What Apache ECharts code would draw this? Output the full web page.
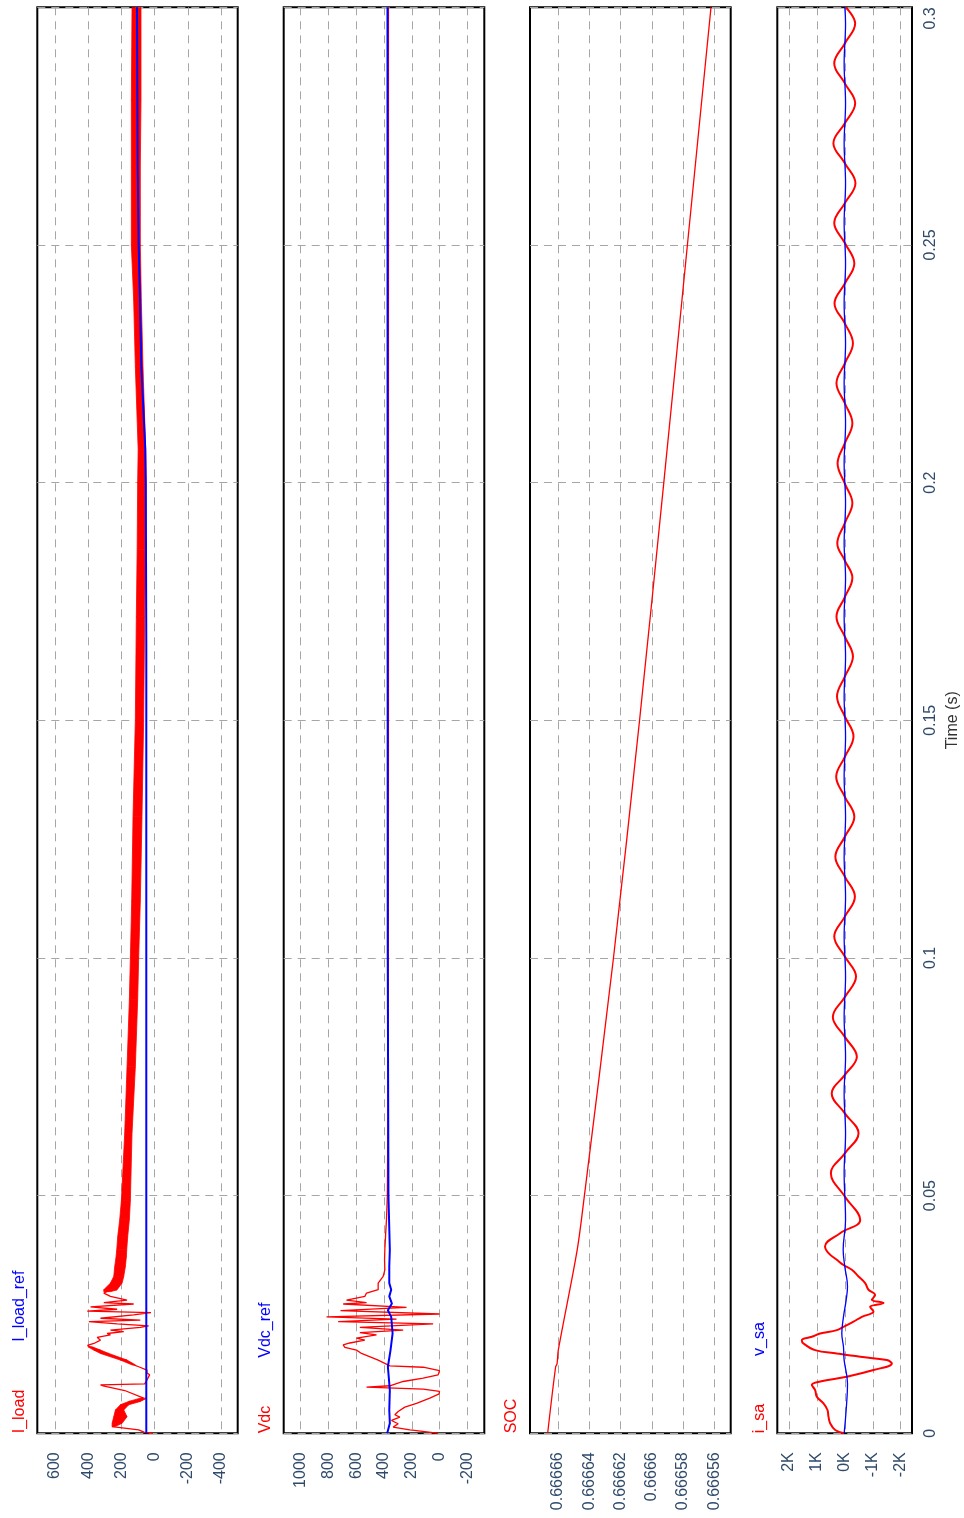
<!DOCTYPE html>
<html><head><meta charset="utf-8">
<script src="https://cdn.jsdelivr.net/npm/echarts@6/dist/echarts.min.js"></script>
<style>html,body{margin:0;padding:0;background:#fff}#c{width:964px;height:1518px}</style>
</head><body><div id="c"></div><script>
// ---------- DATA (time in s, values in panel units) ----------
const timeTicks = [0, 0.05, 0.1, 0.15, 0.2, 0.25, 0.3];
const iloadTicks = [600, 400, 200, 0, -200, -400];
const vdcTicks = [1000, 800, 600, 400, 200, 0, -200];
const socTicks = [0.66666, 0.66664, 0.66662, 0.6666, 0.66658, 0.66656];
const isaTicks = [2000, 1000, 0, -1000, -2000];

const legendP1 = ['I_load', 'I_load_ref'];
const legendP2 = ['Vdc', 'Vdc_ref'];
const legendP3 = ['SOC'];
const legendP4 = ['i_sa', 'v_sa'];

// I_load thin transient trace
const iloadT = [0, 0.0002, 0.0007, 0.0014, 0.0021, 0.0035, 0.0049, 0.006, 0.0067, 0.0074,
  0.0077, 0.009, 0.01, 0.0102, 0.0104, 0.0112, 0.0123, 0.0127, 0.0133, 0.014,
  0.0144, 0.0154, 0.0168, 0.0175, 0.0182, 0.0185, 0.0189, 0.0196, 0.0202, 0.0207,
  0.021, 0.0214, 0.0217, 0.0223, 0.0226, 0.023, 0.0235, 0.0238, 0.0242, 0.0249,
  0.0254, 0.0257, 0.0261, 0.0266, 0.0272, 0.0275, 0.028, 0.0288, 0.0295, 0.0302];
const iloadV = [10, 60, 96, 256, 226, 206, 211, 181, 121, 66,
  56, 180, 310, 326, 60, 46, 30, 46, 46, 96,
  126, 186, 300, 346, 390, 404, 366, 326, 346, 266,
  286, 186, 266, 86, 36, 226, 396, 86, 326, 126,
  22, 406, 226, 386, 126, 306, 166, 266, 306, 266];
// I_load ripple band (null = break)
const bandT = [0.0014, 0.0021, 0.0035, 0.0049, 0.006, 0.0067, 0.0074, null,
  0.0144, 0.0154, 0.0168, 0.0175, 0.0182, null,
  0.0298, 0.0302, 0.0316, 0.033, 0.0351, 0.0372, 0.0386, 0.0414, 0.045, 0.049,
  0.0631, 0.0771, 0.0912, 0.1, 0.112, 0.1297, 0.15, 0.1718, 0.186, 0.2,
  0.207, 0.2244, 0.2384, 0.25, 0.2665, 0.2805, 0.3];
const bandLo = [240, 196, 166, 186, 156, 86, 46, null,
  116, 166, 276, 326, 376, null,
  266, 226, 196, 186, 176, 170, 168, 162, 152, 146,
  136, 116, 102, 96, 86, 76, 66, 60, 55, 52,
  54, 70, 80, 86, 86, 82, 82];
const bandHi = [256, 256, 246, 236, 206, 156, 86, null,
  136, 206, 326, 366, 402, null,
  306, 306, 266, 246, 240, 232, 228, 222, 210, 200,
  180, 166, 152, 146, 138, 130, 116, 110, 105, 102,
  99, 116, 126, 140, 140, 140, 136];
const irefT = [0, 0.165, 0.2, 0.207, 0.2244, 0.2384, 0.25, 0.2665, 0.3];
const irefV = [50, 50, 53, 56, 80, 88, 96, 102, 106];

// Vdc
const vdcT = [0, 0.0003, 0.0007, 0.0013, 0.002, 0.0027, 0.0034, 0.0039, 0.0046, 0.0055,
  0.0063, 0.0074, 0.0083, 0.0088, 0.0093, 0.0097, 0.01, 0.0104, 0.0109, 0.0116,
  0.0123, 0.0132, 0.0139, 0.0142, 0.0154, 0.0168, 0.0175, 0.0181, 0.0186, 0.019,
  0.0196, 0.02, 0.0207, 0.0212, 0.0217, 0.0223, 0.023, 0.0235, 0.024, 0.0245,
  0.0251, 0.0258, 0.0265, 0.0272, 0.0275, 0.028, 0.0288, 0.0295, 0.0302, 0.0316,
  0.033, 0.0344, 0.0365, 0.0386, 0.042, 0.045, 0.05, 0.07, 0.1, 0.15,
  0.2, 0.25, 0.3];
const vdcV = [10, 90, 214, 334, 298, 346, 286, 322, 298, 250,
  166, 70, 3, 0, 118, 526, 358, 346, 262, 118,
  10, 0, 118, 358, 442, 562, 598, 682, 694, 646,
  538, 598, 454, 574, 262, 574, 46, 730, 310, 814,
  0, 713, 238, 694, 526, 670, 538, 526, 442, 442,
  406, 394, 396, 394, 388, 382, 376, 371, 369, 368,
  368, 368, 368];
const vrefT = [0, 0.0021, 0.0049, 0.0091, 0.0105, 0.014, 0.0175, 0.021, 0.0245, 0.0259,
  0.0273, 0.0288, 0.0302, 0.0316, 0.0351, 0.0386, 0.05, 0.1, 0.3];
const vrefV = [377, 358, 362, 358, 362, 372, 353, 338, 348, 372,
  343, 362, 348, 362, 362, 358, 368, 373, 375];

// SOC
const socT = [0, 0.014, 0.0146, 0.0175, 0.0386, 0.05, 0.1, 0.15, 0.2, 0.25, 0.3];
const socV = [0.6666666, 0.6666615, 0.6666606, 0.6666598, 0.6666477, 0.6666431,
  0.6666245, 0.6666078, 0.6665923, 0.6665772, 0.6665621];

// i_sa (A)
const isaT = [0, 0.0007, 0.0021, 0.0035, 0.0049, 0.0063, 0.0077, 0.0091, 0.0102, 0.0109,
  0.0119, 0.0133, 0.0147, 0.0154, 0.0161, 0.0168, 0.0175, 0.0189, 0.0196, 0.0203,
  0.021, 0.0217, 0.0224, 0.0235, 0.0245, 0.0256, 0.0266, 0.0274, 0.0281, 0.0291,
  0.0302, 0.0316, 0.033, 0.0344, 0.0354, 0.0365, 0.0379, 0.0393, 0.0421, 0.0449,
  0.0498, 0.0547, 0.0589, 0.0631, 0.0673, 0.0715, 0.0754, 0.0792, 0.0834, 0.0876,
  0.0918, 0.0961, 0.1003, 0.1045, 0.1087, 0.1129, 0.1171, 0.1213, 0.1255, 0.1297,
  0.1339, 0.1381, 0.1423, 0.1466, 0.1508, 0.155, 0.1592, 0.1634, 0.1676, 0.1718,
  0.1759, 0.18, 0.1836, 0.1872, 0.1915, 0.1957, 0.1998, 0.204, 0.2083, 0.2125,
  0.2167, 0.2209, 0.2251, 0.2293, 0.2335, 0.2377, 0.2419, 0.2461, 0.2504, 0.2546,
  0.2588, 0.263, 0.2672, 0.2714, 0.2756, 0.2798, 0.284, 0.2882, 0.2924, 0.2966,
  0.3];
const isaV = [30, 347, 527, 586, 622, 765, 1004, 1064, 1183, 885,
  -70, -1026, -1683, -1503, -548, 288, 1064, 1482, 1541, 1183,
  885, 288, 49, -310, -609, -1026, -906, -1384, -967, -1085,
  -847, -727, -489, -250, 49, 288, 585, 710, 170, -550,
  0, 500, 0, -490, 0, 470, 0, -430, 0, 430,
  0, -400, 0, 380, 0, -360, 0, 340, 0, -340,
  0, 310, 0, -310, 0, 280, 0, -290, 0, 300,
  0, -270, 0, 270, 0, -270, 0, 260, 0, -270,
  0, 300, 0, -290, 0, 370, 0, -340, 0, 380,
  0, -380, 0, 410, 0, -370, 0, 380, 0, -370,
  -30];
// v_sa
const vsaT = [0, 0.0049, 0.0105, 0.0154, 0.0182, 0.021, 0.0245, 0.028, 0.0309, 0.035,
  0.0386, 0.0449, 0.0547, 0.0631, 0.0715, 0.0792, 0.0876, 0.0961, 0.1045, 0.1129,
  0.1213, 0.1297, 0.1381, 0.1466, 0.155, 0.1634, 0.1718, 0.18, 0.1872, 0.1957,
  0.204, 0.2125, 0.2209, 0.2293, 0.2377, 0.2461, 0.2546, 0.263, 0.2714, 0.2798,
  0.2882, 0.2966, 0.3];
const vsaV = [25, -47, -95, 25, 49, 109, 49, -47, -95, 0,
  60, -25, 25, -25, 25, -25, 25, -25, 25, -25,
  25, -25, 25, -25, 25, -25, 25, -25, 25, -25,
  25, -25, 25, -25, 25, -25, 25, -25, 25, -25,
  25, -25, 0];

// ---------- CHART ----------
const FONT = '"Liberation Sans", Arial, sans-serif';
const LABEL_COLOR = '#2f4a6a';
const RED = '#ff0000', BLUE = '#0000ff';
const GRID_TOP = 7.3, GRID_H = 1426;
const panels = [
  {left: 37.3, width: 200.4, min: -500.6, max: 706.6, ticks: iloadTicks, fmt: v => String(Math.round(v)), legend: legendP1},
  {left: 283.7, width: 200.6, min: -322.5, max: 1122.5, ticks: vdcTicks, fmt: v => String(Math.round(v)), legend: legendP2},
  {left: 530, width: 200.7, min: 0.6665495, max: 0.6666779, ticks: socTicks, fmt: v => String(+(+v).toFixed(5)), legend: legendP3},
  {left: 777.3, width: 134.7, min: -2405, max: 2419, ticks: isaTicks, fmt: v => Math.round(v / 1000) + 'K', legend: legendP4}
];
const legendColors = [[RED, BLUE], [RED, BLUE], [RED], [RED, BLUE]];
const splitStyle = {color: '#a6a6a6', type: [8, 6], width: 1};

const zip = (t, v) => t.map((x, i) => [v[i], x]);

const grids = [], xAxes = [], yAxes = [];
panels.forEach((p, i) => {
  grids.push({left: p.left, top: GRID_TOP, width: p.width, height: GRID_H, show: true,
    borderColor: '#000', borderWidth: 2, backgroundColor: '#fff', outerBoundsMode: 'none', containLabel: false});
  xAxes.push({gridIndex: i, type: 'value', inverse: true, min: p.min, max: p.max, position: 'bottom',
    axisLine: {show: false}, axisTick: {show: false, customValues: p.ticks},
    axisLabel: {customValues: p.ticks, rotate: 90, margin: 19, fontSize: 16, fontFamily: FONT, color: LABEL_COLOR, formatter: p.fmt},
    splitLine: {show: true, lineStyle: splitStyle}});
  const last = i === panels.length - 1;
  yAxes.push({gridIndex: i, type: 'value', min: 0, max: 0.3, interval: 0.05, position: last ? 'right' : 'left',
    axisLine: {show: false}, axisTick: {show: false},
    axisLabel: {show: last, rotate: 90, margin: 11, fontSize: 16, fontFamily: FONT, color: LABEL_COLOR,
      alignMaxLabel: 'right'},
    splitLine: {show: true, lineStyle: splitStyle},
    name: last ? 'Time (s)' : '', nameLocation: 'middle', nameRotate: 90, nameGap: 33,
    nameTextStyle: {fontSize: 16, fontFamily: FONT, color: '#333'}});
});

const lineS = (name, idx, data, color, width, extra) => Object.assign({
  name, type: 'line', xAxisIndex: idx, yAxisIndex: idx, data, showSymbol: false, symbol: 'none',
  lineStyle: {color, width}, itemStyle: {color}, z: 3, clip: true, animation: false
}, extra || {});

const bandData = bandT.map((t, i) => [bandLo[i], t, bandHi[i]]);
const bandSeries = {
  name: 'I_load', type: 'custom', xAxisIndex: 0, yAxisIndex: 0, data: bandData, clip: true, z: 2,
  encode: {x: [0, 2], y: 1}, animation: false,
  renderItem(params, api) {
    const i = params.dataIndexInside;
    if (i >= params.dataInsideLength - 1) return;
    const lo0 = api.value(0, i), t0 = api.value(1, i), hi0 = api.value(2, i);
    const lo1 = api.value(0, i + 1), t1 = api.value(1, i + 1), hi1 = api.value(2, i + 1);
    if ([lo0, t0, hi0, lo1, t1, hi1].some(v => v == null || isNaN(v))) return;
    const pts = [api.coord([lo0, t0]), api.coord([lo1, t1]), api.coord([hi1, t1]), api.coord([hi0, t0])];
    return {type: 'polygon', shape: {points: pts}, style: {fill: RED, stroke: RED, lineWidth: 0.8}};
  }
};

const series = [
  lineS('I_load', 0, zip(iloadT, iloadV), RED, 1.3),
  bandSeries,
  lineS('I_load_ref', 0, zip(irefT, irefV), BLUE, 2, {z: 4}),
  lineS('Vdc', 1, zip(vdcT, vdcV), RED, 1.3),
  lineS('Vdc_ref', 1, zip(vrefT, vrefV), BLUE, 2, {z: 4}),
  lineS('SOC', 2, zip(socT, socV), RED, 1.3, {smooth: 0.3}),
  lineS('i_sa', 3, zip(isaT, isaV), RED, 2, {smooth: 0.4}),
  lineS('v_sa', 3, zip(vsaT, vsaV), BLUE, 1.3, {smooth: 0.4, z: 4})
];

// rotated legend labels (text only, like the original)
const ctx = document.createElement('canvas').getContext('2d');
ctx.font = '16px ' + FONT;
const graphic = [];
panels.forEach((p, i) => {
  let y = GRID_TOP + GRID_H;
  p.legend.forEach((name, j) => {
    graphic.push({type: 'text', x: p.left - 18, y, rotation: Math.PI / 2, silent: true,
      style: {text: name, fill: legendColors[i][j], font: '16px ' + FONT,
        textAlign: 'left', textVerticalAlign: 'middle', align: 'left', verticalAlign: 'middle'}});
    y -= ctx.measureText(name).width + 48;
  });
});

const chart = echarts.init(document.getElementById('c'), null, {renderer: 'canvas'});
chart.setOption({
  animation: false, backgroundColor: '#fff',
  grid: grids, xAxis: xAxes, yAxis: yAxes, series, graphic
});
</script></body></html>
